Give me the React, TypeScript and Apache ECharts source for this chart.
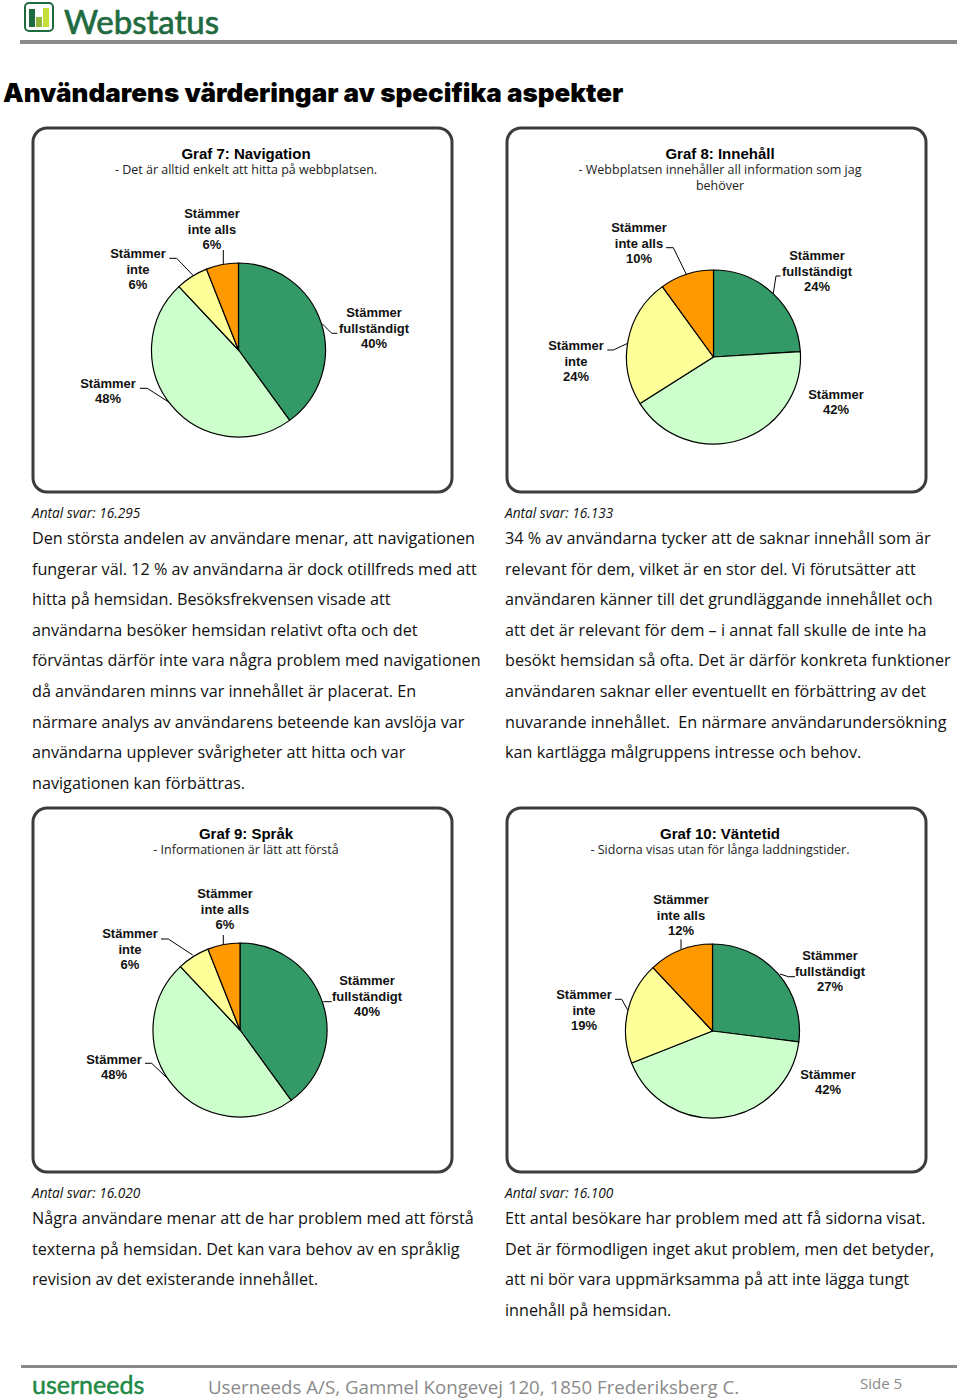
import React, { useEffect, useRef } from "react";
import * as echarts from "echarts";

const sliceNames = ["Stämmer\nfullständigt", "Stämmer", "Stämmer\ninte", "Stämmer\ninte alls"];
const sliceColors = ["#339966", "#CCFFCC", "#FFFF99", "#FF9900"];
const graf7 = [40, 48, 6, 6];
const graf8 = [24, 42, 24, 10];
const graf9 = [40, 48, 6, 6];
const graf10 = [27, 42, 19, 12];

const BODY = "'Open Sans', sans-serif";
const LABEL = "'Liberation Sans', sans-serif";

const panels = [
  { x: 33, y: 128, cx: 238.5, cy: 350, values: graf7, title: "Graf 7: Navigation", sub: ["- Det är alltid enkelt att hitta på webbplatsen."],
    labels: [[374, 328], [108, 391], [138, 269], [212, 229]],
    leaders: [
      [[321.7, 323.3], [331.7, 333.3], [337.3, 333.3]],
      [[171.7, 404], [147.3, 388.3], [140, 388.3]],
      [[192.7, 275], [176.7, 258.3], [169.3, 258.3]],
      [[223.3, 264], [223.3, 257], [223.3, 250]],
    ] },
  { x: 507, y: 128, cx: 713.5, cy: 357, values: graf8, title: "Graf 8: Innehåll", sub: ["- Webbplatsen innehåller all information som jag", "behöver"],
    labels: [[817, 271], [836, 402], [576, 361], [639, 243]],
    leaders: [
      [[773.3, 293.3], [776, 276], [780.7, 276]],
      null,
      [[627.7, 343.3], [613.3, 350], [607.3, 350]],
      [[686.7, 275], [673.3, 247.7], [666, 247.7]],
    ] },
  { x: 33, y: 808, cx: 240, cy: 1030, values: graf9, title: "Graf 9: Språk", sub: ["- Informationen är lätt att förstå"],
    labels: [[367, 996], [114, 1067], [130, 949], [225, 909]],
    leaders: [
      [[323.3, 1001.7], [327, 1001.7], [331.7, 1001.7]],
      [[173.3, 1084], [151.7, 1063.3], [145, 1063.3]],
      [[192.7, 955], [168.3, 939], [161, 939]],
      [[223.3, 944], [223.3, 940], [223.3, 935]],
    ] },
  { x: 507, y: 808, cx: 712.5, cy: 1031, values: graf10, title: "Graf 10: Väntetid", sub: ["- Sidorna visas utan för långa laddningstider."],
    labels: [[830, 971], [828, 1082], [584, 1010], [681, 915]],
    leaders: [
      [[780, 974], [788.3, 976.7], [795, 976.7]],
      null,
      [[627.7, 1010], [621.7, 999.3], [615, 999.3]],
      [[681, 949], [681, 944], [681, 939.3]],
    ] },
];

const bodyTexts = [
  { x: 32, y: 512, count: "Antal svar: 16.295", lines: ["Den största andelen av användare menar, att navigationen", "fungerar väl. 12 % av användarna är dock otillfreds med att", "hitta på hemsidan. Besöksfrekvensen visade att", "användarna besöker hemsidan relativt ofta och det", "förväntas därför inte vara några problem med navigationen", "då användaren minns var innehållet är placerat. En", "närmare analys av användarens beteende kan avslöja var", "användarna upplever svårigheter att hitta och var", "navigationen kan förbättras."] },
  { x: 505, y: 512, count: "Antal svar: 16.133", lines: ["34 % av användarna tycker att de saknar innehåll som är", "relevant för dem, vilket är en stor del. Vi förutsätter att", "användaren känner till det grundläggande innehållet och", "att det är relevant för dem – i annat fall skulle de inte ha", "besökt hemsidan så ofta. Det är därför konkreta funktioner", "användaren saknar eller eventuellt en förbättring av det", "nuvarande innehållet.  En närmare användarundersökning", "kan kartlägga målgruppens intresse och behov."] },
  { x: 32, y: 1192, count: "Antal svar: 16.020", lines: ["Några användare menar att de har problem med att förstå", "texterna på hemsidan. Det kan vara behov av en språklig", "revision av det existerande innehållet."] },
  { x: 505, y: 1192, count: "Antal svar: 16.100", lines: ["Ett antal besökare har problem med att få sidorna visat.", "Det är förmodligen inget akut problem, men det betyder,", "att ni bör vara uppmärksamma på att inte lägga tungt", "innehåll på hemsidan."] },
];

function buildGraphic() {
  const g: any[] = [];
  const text = (x: number, y: number, t: string, font: string, fill: string, align = "left", extra: any = {}) =>
    g.push({ type: "text", x, y, style: { text: t, font, fill, align, verticalAlign: "middle", ...extra } });

  // header
  g.push({ type: "rect", shape: { x: 25, y: 3, width: 28, height: 28, r: 4 }, style: { fill: "#fff", stroke: "#1F6B3F", lineWidth: 2 } });
  g.push({ type: "rect", shape: { x: 29, y: 9, width: 6, height: 18 }, style: { fill: "#1F6B3F" } });
  g.push({ type: "rect", shape: { x: 36, y: 17, width: 6, height: 10 }, style: { fill: "#8DB83A" } });
  g.push({ type: "rect", shape: { x: 43, y: 8, width: 6, height: 19 }, style: { fill: "#C4DE3C" } });
  text(64, 21, "Webstatus", "33px Lato, sans-serif", "#1F6B3F", "left", { stroke: "#1F6B3F", lineWidth: 0.7 });
  g.push({ type: "rect", shape: { x: 20, y: 40, width: 937, height: 4 }, style: { fill: "#8A8A8A" } });
  text(3, 92, "Användarens värderingar av specifika aspekter", "900 26px Inter, sans-serif", "#000");

  for (const p of panels) {
    g.push({ type: "rect", shape: { x: p.x, y: p.y, width: 419, height: 364, r: 14 }, style: { fill: "none", stroke: "#3C3C3C", lineWidth: 3 } });
    const c = p.x + 214;
    text(c - 1, p.y + 25, p.title, `bold 15px ${LABEL}`, "#000", "center");
    p.sub.forEach((s, i) => text(c - 1, p.y + 41.5 + i * 15.5, s, `12.5px ${BODY}`, "#222", "center"));
  }

  for (const b of bodyTexts) {
    text(b.x, b.y, b.count, `italic 13.7px ${BODY}`, "#111");
    b.lines.forEach((l, i) => text(b.x, b.y + 26 + i * 30.6, l, `16.2px ${BODY}`, "#111"));
  }

  // footer
  g.push({ type: "rect", shape: { x: 21, y: 1365, width: 936, height: 3 }, style: { fill: "#8A8A8A" } });
  text(32, 1384, "userneeds", "25px Lato, sans-serif", "#1E8A45", "left", { stroke: "#1E8A45", lineWidth: 0.5 });
  text(208, 1386, "Userneeds A/S, Gammel Kongevej 120, 1850 Frederiksberg C.", `18.7px ${BODY}`, "#8A8A8A");
  text(860, 1383, "Side 5", `15px ${BODY}`, "#8A8A8A");
  return g;
}

export default function App() {
  const ref = useRef<HTMLDivElement>(null);
  useEffect(() => {
    const chart = echarts.init(ref.current!, undefined, { renderer: "svg" });
    chart.setOption({
      animation: false,
      backgroundColor: "#fff",
      graphic: buildGraphic(),
      series: panels.map((p) => ({
        type: "pie",
        center: [p.cx, p.cy],
        radius: [0, 87],
        startAngle: 90,
        clockwise: true,
        avoidLabelOverlap: false,
        itemStyle: { borderColor: "#000", borderWidth: 1.2 },
        label: { show: true, formatter: "{b}\n{c}%", fontFamily: LABEL, fontWeight: "bold", fontSize: 13, lineHeight: 15.5, color: "#111", align: "center" },
        labelLine: { show: true, length: 10, length2: 10, lineStyle: { color: "#000", width: 1 } },
        labelLayout: (params: any) => {
          const [x, y] = p.labels[params.dataIndex];
          const pts = p.leaders[params.dataIndex];
          return pts
            ? { x, y, align: "center", verticalAlign: "middle", labelLinePoints: pts }
            : { x, y, align: "center", verticalAlign: "middle" };
        },
        data: p.values.map((v, i) => ({
          value: v,
          name: sliceNames[i],
          itemStyle: { color: sliceColors[i] },
          labelLine: { show: !!p.leaders[i] },
        })),
      })),
    });
    return () => chart.dispose();
  }, []);
  return <div ref={ref} style={{ position: "absolute", left: 0, top: 0, width: 960, height: 1399 }} />;
}
